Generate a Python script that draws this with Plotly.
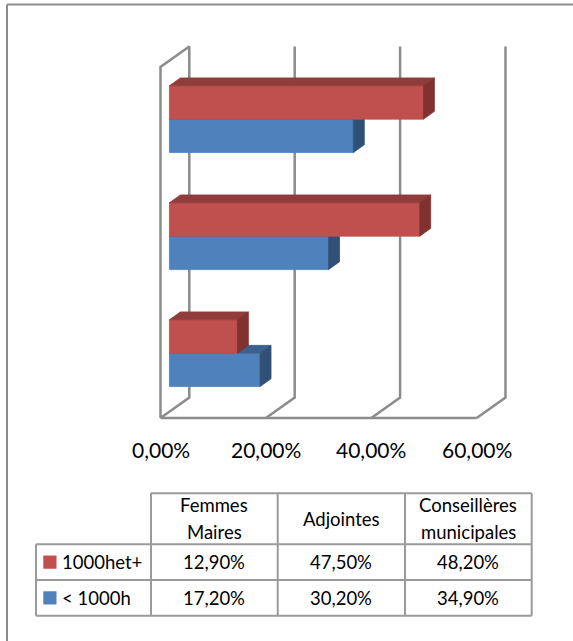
import plotly.graph_objects as go

# ---------------- data ----------------
categories = ["Femmes Maires", "Adjointes", "Conseillères municipales"]
header_labels = ["Femmes<br>Maires", "Adjointes", "Conseillères<br>municipales"]
series_names = ["1000het+", "< 1000h"]
vals_1000plus = [12.9, 47.5, 48.2]    # 1000het+ (%)
vals_under1000 = [17.2, 30.2, 34.9]   # < 1000h (%)
x_ticks = [0, 20, 40, 60]
tick_labels = ["0,00%", "20,00%", "40,00%", "60,00%"]

# ---------------- layout geometry ----------------
W, H = 573, 641
X0_PX, PX_PER_PCT = 160.5, 5.27
Y_FLOOR_PX, PX_PER_CAT = 418.0, 117.0
DX = 28.8 / PX_PER_PCT       # depth offset in x units
DY = 20.5 / PX_PER_CAT       # depth offset in y units
D0, D1 = 0.31, 0.69          # bar depth span
BW = 1 / 3.5                 # bar thickness (gap width 150%)
YMIN, YMAX = -0.5, len(categories) - 0.5

xr = [-X0_PX / PX_PER_PCT, (W - X0_PX) / PX_PER_PCT]
yr = [YMIN - (H - Y_FLOOR_PX) / PX_PER_CAT, YMIN + Y_FLOOR_PX / PX_PER_CAT]

FONT = "Lato, Carlito, Calibri, sans-serif"
GRID = "#8C8C8C"

colors = {
    "1000het+": ("#C0504D", "#903C3A", "#7F3230"),
    "< 1000h": ("#4F81BD", "#3B618E", "#315075"),
}


def P(x, y, d):
    return x + d * DX, y + d * DY


def poly_trace(pts_list, color):
    xs, ys = [], []
    for pts in pts_list:
        for (x, y, d) in pts + [pts[0]]:
            px, py = P(x, y, d)
            xs.append(px)
            ys.append(py)
        xs.append(None)
        ys.append(None)
    return go.Scatter(x=xs, y=ys, mode="lines", fill="toself", fillcolor=color,
                      line=dict(color=color, width=0.8), hoverinfo="skip",
                      showlegend=False)


def line_trace(pts_list):
    xs, ys = [], []
    for pts in pts_list:
        for (x, y, d) in pts:
            px, py = P(x, y, d)
            xs.append(px)
            ys.append(py)
        xs.append(None)
        ys.append(None)
    return go.Scatter(x=xs, y=ys, mode="lines", line=dict(color=GRID, width=2.5),
                      hoverinfo="skip", showlegend=False)


fig = go.Figure()

# walls / floor / gridlines
xmax = x_ticks[-1]
wall = [[(0, YMIN, 0), (0, YMAX, 0), (0, YMAX, 1), (0, YMIN, 1), (0, YMIN, 0)],
        [(0, YMIN, 0), (xmax, YMIN, 0)]]
for t in x_ticks[1:]:
    wall.append([(t, YMIN, 0), (t, YMIN, 1), (t, YMAX, 1)])
fig.add_trace(line_trace(wall))

# bars (blue below red within each category)
series = [("< 1000h", vals_under1000, -BW, 0.0), ("1000het+", vals_1000plus, 0.0, BW)]
for i, cat in enumerate(categories):
    for name, vals, lo, hi in series:
        v = vals[i]
        y0, y1 = i + lo, i + hi
        front, top, side = colors[name]
        fig.add_trace(poly_trace([[(0, y0, D0), (v, y0, D0), (v, y1, D0), (0, y1, D0)]], front))
        fig.add_trace(poly_trace([[(0, y1, D0), (v, y1, D0), (v, y1, D1), (0, y1, D1)]], top))
        fig.add_trace(poly_trace([[(v, y0, D0), (v, y0, D1), (v, y1, D1), (v, y1, D0)]], side))

annotations = []
# x tick labels
for t, lab in zip(x_ticks, tick_labels):
    annotations.append(dict(x=t, y=YMIN - 31 / PX_PER_CAT, xref="x", yref="y", text=lab,
                            showarrow=False, xanchor="center", yanchor="middle",
                            font=dict(family=FONT, size=21, color="#000000")))

# ---------------- data table (paper coords from pixels) ----------------
def px(x):
    return x / W


def py(y):
    return 1 - y / H


col_x = [36, 151, 277.7, 405, 531.7]
row_y = [493.3, 544.3, 580, 615.7]
TBL = "#9A9A9A"
shapes = []


def hline(x0, x1, y, color=TBL, w=2):
    shapes.append(dict(type="line", xref="paper", yref="paper", x0=px(x0), x1=px(x1),
                       y0=py(y), y1=py(y), line=dict(color=color, width=w)))


def vline(x, y0, y1, color=TBL, w=2):
    shapes.append(dict(type="line", xref="paper", yref="paper", x0=px(x), x1=px(x),
                       y0=py(y0), y1=py(y1), line=dict(color=color, width=w)))


hline(col_x[1], col_x[4], row_y[0])
for y in row_y[1:]:
    hline(col_x[0], col_x[4], y)
vline(col_x[0], row_y[1], row_y[3])
for x in col_x[1:]:
    vline(x, row_y[0], row_y[3])

# outer chart border (top & left visible)
hline(7, W + 5, 4.5, color=GRID, w=2)
vline(7, 4.5, H + 5, color=GRID, w=2)

TFS = 18.5
LINE_GAP = 26.7
for j, lab in enumerate(header_labels):
    cx = (col_x[j + 1] + col_x[j + 2]) / 2
    cy = (row_y[0] + row_y[1]) / 2
    parts = lab.split("<br>")
    n = len(parts)
    for k, part in enumerate(parts):
        yy = cy + (k - (n - 1) / 2) * LINE_GAP
        annotations.append(dict(x=px(cx), y=py(yy), xref="paper", yref="paper",
                                text=part, showarrow=False, xanchor="center", yanchor="middle",
                                font=dict(family=FONT, size=TFS, color="#000000")))

table_rows = [("1000het+", vals_1000plus), ("< 1000h", vals_under1000)]
for r, (name, vals) in enumerate(table_rows):
    y0, y1 = row_y[r + 1], row_y[r + 2]
    cy = (y0 + y1) / 2
    shapes.append(dict(type="rect", xref="paper", yref="paper", x0=px(43.3), x1=px(56.5),
                       y0=py(cy - 6.6), y1=py(cy + 6.6), fillcolor=colors[name][0],
                       line=dict(width=0)))
    annotations.append(dict(x=px(59.5), y=py(cy), xref="paper", yref="paper", text=name,
                            showarrow=False, xanchor="left", yanchor="middle",
                            font=dict(family=FONT, size=TFS, color="#000000")))
    for j, v in enumerate(vals):
        cx = (col_x[j + 1] + col_x[j + 2]) / 2
        annotations.append(dict(x=px(cx), y=py(cy), xref="paper", yref="paper",
                                text=f"{v:.2f}%".replace(".", ","), showarrow=False,
                                xanchor="center", yanchor="middle",
                                font=dict(family=FONT, size=TFS, color="#000000")))

fig.update_layout(
    width=W, height=H, margin=dict(l=0, r=0, t=0, b=0),
    paper_bgcolor="white", plot_bgcolor="white", showlegend=False,
    xaxis=dict(range=xr, visible=False, fixedrange=True, domain=[0, 1]),
    yaxis=dict(range=yr, visible=False, fixedrange=True, domain=[0, 1]),
    annotations=annotations, shapes=shapes,
    font=dict(family=FONT),
)

fig.write_html("out.html")
